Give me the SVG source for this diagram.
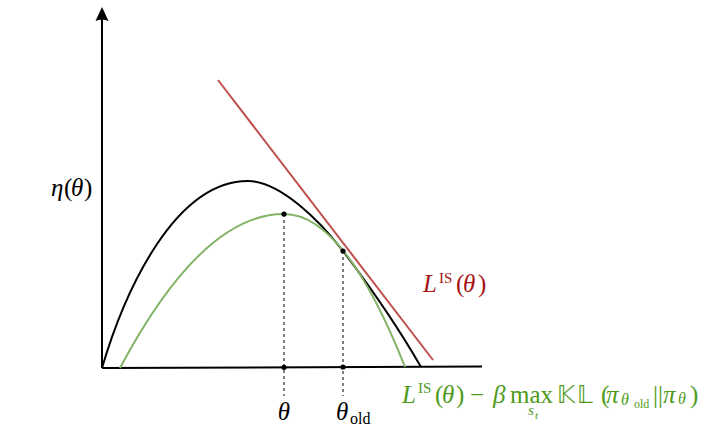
<svg xmlns="http://www.w3.org/2000/svg" width="709" height="435" viewBox="0 0 709 435">
<style>
text{font-family:"Liberation Serif","Times New Roman",serif;}
.it{font-style:italic;}
.ax{stroke:#000;stroke-width:2;fill:none;}
.dash{stroke:#000;stroke-width:1;stroke-dasharray:3,3;fill:none;}
.dot{fill:#000;}
.ds{font-family:"DejaVu Sans",sans-serif;}
</style>
<rect width="709" height="435" fill="#fff"/>
<g id="axes">
<path class="ax" d="M102,368 L482,366.5"/>
<path class="ax" d="M102,368 L102,16"/>
<path d="M102,7 L108.5,21 Q102,18 95.5,21 Z" fill="#000"/>
</g>
<g id="curves">
<path id="eta" d="M102,368 C125,290 175,181 248,181 C280,181 320,221 343,251 C365,280 395,322 421,367" fill="none" stroke="#000" stroke-width="2"/>
<path id="surrogate" d="M120,368 Q202,214 284,214 Q344.5,214 405,367" fill="none" stroke="#82b366" stroke-width="2"/>
<path id="tangent" d="M218,80 L433,360" fill="none" stroke="#c0504d" stroke-width="2"/>
</g>
<g id="connectors">
<path class="dash" d="M284,214 L284,396"/>
<path class="dash" d="M343,251 L343,396"/>
</g>
<g id="points">
<circle class="dot" cx="284" cy="214" r="2.6"/>
<circle class="dot" cx="343" cy="251" r="2.6"/>
<circle class="dot" cx="284" cy="367.3" r="2.6"/>
<circle class="dot" cx="343" cy="367" r="2.6"/>
</g>
<g id="labels">
<text font-size="25" y="196"><tspan x="51" class="it">η</tspan><tspan x="64">(</tspan><tspan x="71" class="it">θ</tspan><tspan x="84">)</tspan></text>
<text font-size="25" y="420" x="284" text-anchor="middle" class="it">θ</text>
<text font-size="25" y="420"><tspan x="336" class="it">θ</tspan><tspan x="350" y="424" font-size="16">old</tspan></text>
<text fill="#a51414" font-size="25" y="292"><tspan x="423" class="it">L</tspan><tspan x="439" y="283" font-size="15">IS</tspan><tspan x="456" y="292">(</tspan><tspan x="463" class="it">θ</tspan><tspan x="478">)</tspan></text>
<text fill="#4f9a1a" font-size="25" y="403"><tspan x="402" class="it">L</tspan><tspan x="418" y="393" font-size="15">IS</tspan><tspan x="435" y="403">(</tspan><tspan x="442" class="it">θ</tspan><tspan x="456">)</tspan><tspan x="470">−</tspan><tspan x="493" class="it">β</tspan><tspan x="510">max</tspan><tspan x="557" y="403" class="ds" font-size="24" letter-spacing="2">𝕂𝕃</tspan><tspan x="601" y="403">(</tspan><tspan x="606" class="it">π</tspan><tspan x="621" y="405" font-size="16" class="it">θ</tspan><tspan x="634" y="408" font-size="12">old</tspan><tspan x="653" y="403">||</tspan><tspan x="663" class="it">π</tspan><tspan x="678" y="404" font-size="16" class="it">θ</tspan><tspan x="690" y="403">)</tspan></text>
<text fill="#4f9a1a" font-size="15" y="415"><tspan x="528" class="it">s</tspan><tspan x="535" y="419" font-size="11" class="it">t</tspan></text>
</g>
</svg>
